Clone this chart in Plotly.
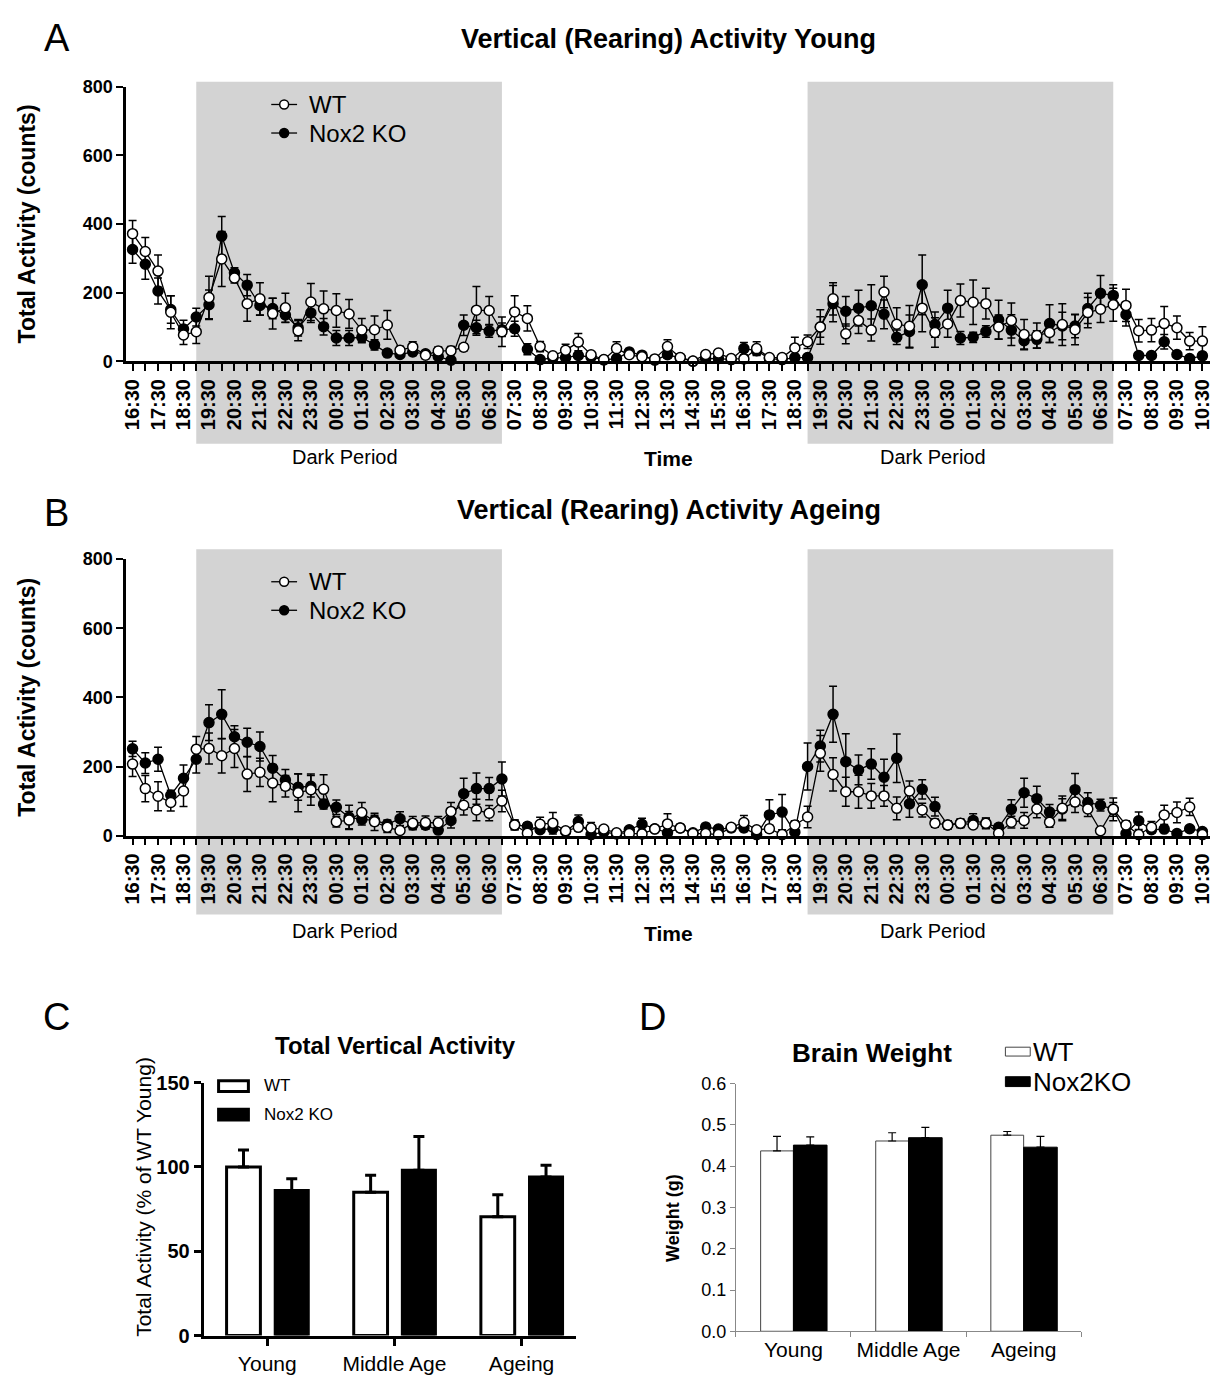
import plotly.graph_objects as go

W, H = 1220, 1379
FONT = "Liberation Sans, Arial, sans-serif"


def px(x):
    return x / W


def py(y):
    return 1 - y / H


# ---------------- time-course data (30-min bins, 16:30 day 1 -> 10:30 day 3) ----------------
hour_labels = [
    "16:30", "17:30", "18:30", "19:30", "20:30", "21:30", "22:30", "23:30",
    "00:30", "01:30", "02:30", "03:30", "04:30", "05:30", "06:30", "07:30",
    "08:30", "09:30", "10:30", "11:30", "12:30", "13:30", "14:30", "15:30",
    "16:30", "17:30", "18:30", "19:30", "20:30", "21:30", "22:30", "23:30",
    "00:30", "01:30", "02:30", "03:30", "04:30", "05:30", "06:30", "07:30",
    "08:30", "09:30", "10:30",
]
n_bins = 2 * (len(hour_labels) - 1) + 1
t_hours = [i * 0.5 for i in range(n_bins)]          # hours since 16:30 on day 1
dark_start = [2.5, 26.5]                             # 19:00
dark_end = [14.5, 38.5]                              # 07:00

young_wt = [372, 320, 263, 143, 77, 86, 186, 298, 243, 168, 182, 139, 156, 89, 173, 153, 148, 138, 91, 92,
            106, 32, 42, 18, 30, 31, 41, 149, 148, 86, 144, 125, 43, 16, 32, 56, 19, 5, 37, 19,
            13, 7, 43, 11, 1, 20, 24, 8, 7, 37, 11, 11, 39, 57, 100, 182, 80, 119, 91, 202,
            108, 102, 155, 84, 109, 177, 172, 168, 100, 119, 78, 75, 84, 107, 92, 142, 152, 165, 163, 89,
            91, 110, 98, 59, 59]
young_wt_err = [38, 41, 47, 48, 28, 34, 62, 80, 15, 51, 47, 45, 42, 29, 54, 52, 49, 42, 34, 40,
                42, 12, 15, 10, 12, 12, 10, 69, 41, 43, 47, 37, 15, 8, 18, 25, 8, 4, 20, 8,
                6, 5, 20, 6, 3, 8, 8, 5, 5, 20, 6, 6, 31, 20, 50, 47, 29, 38, 32, 46,
                48, 61, 69, 43, 39, 48, 65, 45, 35, 51, 44, 37, 29, 61, 44, 44, 39, 48, 47, 33,
                34, 50, 34, 25, 42]
young_ko = [326, 283, 205, 151, 94, 129, 165, 365, 258, 222, 163, 154, 135, 98, 141, 101, 68, 68, 70, 48,
            24, 20, 27, 22, 14, 3, 105, 98, 88, 92, 95, 35, 5, 10, 11, 17, 12, 4, 8, 27,
            18, 3, 19, 10, 0, 8, 8, 5, 37, 31, 8, 5, 11, 11, 100, 168, 146, 155, 162, 137,
            70, 87, 223, 107, 155, 68, 70, 87, 121, 91, 60, 64, 110, 103, 103, 154, 198, 192, 136, 17,
            17, 57, 20, 8, 16]
young_ko_err = [40, 44, 38, 40, 26, 26, 43, 57, 15, 31, 29, 30, 22, 24, 28, 24, 22, 22, 16, 15,
                10, 8, 10, 8, 8, 5, 30, 22, 18, 20, 22, 16, 5, 5, 6, 8, 6, 3, 5, 10,
                6, 3, 10, 6, 2, 5, 5, 4, 18, 12, 5, 4, 6, 6, 30, 53, 43, 52, 61, 42,
                21, 48, 87, 37, 52, 19, 15, 17, 57, 45, 24, 25, 55, 40, 34, 44, 52, 31, 33, 8,
                8, 21, 8, 5, 10]

ageing_wt = [207, 136, 114, 96, 129, 250, 252, 231, 252, 178, 183, 152, 143, 124, 133, 134, 40, 45, 67, 40,
             24, 15, 36, 38, 37, 70, 88, 74, 65, 100, 31, 7, 33, 36, 14, 24, 22, 19, 8, 6,
             5, 19, 34, 22, 6, 6, 3, 24, 38, 17, 20, 3, 31, 54, 238, 177, 127, 127, 115, 115,
             79, 129, 74, 36, 31, 36, 31, 36, 7, 39, 44, 77, 39, 79, 97, 77, 14, 76, 31, 3,
             24, 60, 67, 83, 3]
ageing_wt_err = [36, 38, 42, 25, 45, 37, 45, 50, 55, 50, 41, 54, 31, 55, 45, 42, 15, 25, 29, 25,
                 15, 8, 19, 19, 18, 26, 28, 31, 22, 31, 14, 5, 20, 31, 6, 10, 16, 8, 5, 5,
                 4, 8, 29, 10, 5, 5, 3, 10, 20, 8, 10, 3, 12, 31, 52, 48, 42, 48, 36, 30,
                 33, 29, 20, 12, 12, 12, 10, 15, 5, 17, 23, 25, 15, 36, 30, 22, 8, 33, 12, 3,
                 17, 28, 30, 25, 3]
ageing_ko = [251, 210, 221, 117, 166, 221, 327, 351, 286, 270, 258, 195, 161, 140, 143, 91, 82, 53, 47, 44,
             33, 49, 31, 30, 16, 44, 121, 136, 136, 164, 31, 27, 17, 20, 12, 41, 3, 10, 5, 17,
             33, 20, 8, 22, 8, 25, 19, 22, 22, 3, 60, 68, 10, 200, 259, 351, 214, 190, 207, 169,
             224, 92, 134, 84, 31, 35, 44, 35, 24, 76, 124, 107, 68, 77, 133, 96, 88, 76, 6, 43,
             17, 19, 6, 20, 12]
ageing_ko_err = [22, 30, 35, 14, 38, 40, 52, 71, 32, 41, 42, 37, 30, 38, 31, 14, 21, 35, 16, 15,
                 12, 20, 12, 10, 8, 22, 45, 45, 32, 49, 14, 10, 8, 8, 6, 19, 3, 5, 4, 8,
                 17, 8, 5, 10, 5, 10, 8, 10, 10, 3, 44, 51, 5, 68, 46, 81, 81, 43, 44, 52,
                 70, 39, 28, 27, 12, 12, 19, 15, 10, 28, 42, 36, 22, 30, 47, 28, 17, 20, 5, 25,
                 8, 8, 5, 8, 6]

# ---------------- summary bar data ----------------
age_groups = ["Young", "Middle Age", "Ageing"]
total_wt = [100, 85, 70.5]
total_wt_err = [10, 10, 13]
total_ko = [86, 98, 94]
total_ko_err = [7, 20, 7]

brain_wt = [0.437, 0.461, 0.475]
brain_wt_err = [0.035, 0.02, 0.009]
brain_ko = [0.451, 0.469, 0.446]
brain_ko_err = [0.02, 0.025, 0.026]

fig = go.Figure()


def add_timecourse(xa, ya, wt, wt_err, ko, ko_err):
    fig.add_trace(go.Scatter(
        x=t_hours, y=ko, name="Nox2 KO", mode="lines+markers", xaxis=xa, yaxis=ya, showlegend=False,
        line=dict(color="black", width=1.3), cliponaxis=False,
        marker=dict(size=10, color="black", line=dict(color="black", width=1.5)),
        error_y=dict(type="data", array=ko_err, color="black", thickness=1.5, width=4),
    ))
    fig.add_trace(go.Scatter(
        x=t_hours, y=wt, name="WT", mode="lines+markers", xaxis=xa, yaxis=ya, showlegend=False,
        line=dict(color="black", width=1.3), cliponaxis=False,
        marker=dict(size=10, color="white", line=dict(color="black", width=1.5)),
        error_y=dict(type="data", array=wt_err, color="black", thickness=1.5, width=4),
    ))


add_timecourse("x", "y", young_wt, young_wt_err, young_ko, young_ko_err)
add_timecourse("x2", "y2", ageing_wt, ageing_wt_err, ageing_ko, ageing_ko_err)

# Panel C: total vertical activity
fig.add_trace(go.Bar(
    x=age_groups, y=total_wt, name="WT", xaxis="x3", yaxis="y3", showlegend=False,
    width=0.266, offset=-0.32,
    marker=dict(color="white", line=dict(color="black", width=3)),
    error_y=dict(type="data", symmetric=False, array=total_wt_err, arrayminus=[0] * 3,
                 color="black", thickness=3, width=5.5),
))
fig.add_trace(go.Bar(
    x=age_groups, y=total_ko, name="Nox2 KO", xaxis="x3", yaxis="y3", showlegend=False,
    width=0.26, offset=0.0625,
    marker=dict(color="black", line=dict(color="black", width=3)),
    error_y=dict(type="data", symmetric=False, array=total_ko_err, arrayminus=[0] * 3,
                 color="black", thickness=3, width=5.5),
))

# Panel D: brain weight
fig.add_trace(go.Bar(
    x=age_groups, y=brain_wt, name="WT", xaxis="x4", yaxis="y4", showlegend=False,
    width=0.285, offset=-0.285,
    marker=dict(color="white", line=dict(color="#444", width=1)),
    error_y=dict(type="data", symmetric=False, array=brain_wt_err, arrayminus=[0] * 3,
                 color="black", thickness=1.2, width=4),
))
fig.add_trace(go.Bar(
    x=age_groups, y=brain_ko, name="Nox2KO", xaxis="x4", yaxis="y4", showlegend=False,
    width=0.292, offset=0,
    marker=dict(color="black", line=dict(color="black", width=1)),
    error_y=dict(type="data", symmetric=False, array=brain_ko_err, arrayminus=[0] * 3,
                 color="black", thickness=1.2, width=4),
))

tick_pos = t_hours
tick_txt = [hour_labels[i // 2] if i % 2 == 0 else "" for i in range(n_bins)]


def ts_xaxis(y_anchor):
    return dict(
        domain=[px(122), px(1213)], anchor=y_anchor, range=[-0.25, 42.3],
        tickmode="array", tickvals=tick_pos, ticktext=tick_txt, tickangle=-90,
        ticks="outside", ticklen=7, tickwidth=2, tickcolor="black",
        showline=True, linewidth=2.5, linecolor="black", showgrid=False, zeroline=False,
        tickfont=dict(family=FONT, size=20, color="black", weight="bold"),
    )


def ts_yaxis(x_anchor, top, bottom):
    return dict(
        domain=[py(bottom), py(top)], anchor=x_anchor, range=[0, 800],
        tickmode="array", tickvals=[0, 200, 400, 600, 800],
        ticks="outside", ticklen=7, tickwidth=2, tickcolor="black",
        showline=True, linewidth=2.5, linecolor="black", showgrid=False, zeroline=False,
        tickfont=dict(family=FONT, size=18, color="black", weight="bold"),
    )


fig.update_layout(
    width=W, height=H, margin=dict(l=0, r=0, t=0, b=0),
    paper_bgcolor="white", plot_bgcolor="rgba(0,0,0,0)",
    font=dict(family=FONT, color="black"),
    barmode="overlay", showlegend=False,
    xaxis=ts_xaxis("y"),
    yaxis=ts_yaxis("x", 77, 356),
    xaxis2=ts_xaxis("y2"),
    yaxis2=ts_yaxis("x2", 557, 838),
    xaxis3=dict(
        domain=[px(200), px(575)], anchor="y3", range=[-0.5, 2.43],
        ticks="outside", ticklen=7, tickwidth=3, tickcolor="black",
        showline=True, linewidth=3, linecolor="black", showgrid=False, zeroline=False,
        tickfont=dict(family=FONT, size=21, color="black"),
    ),
    yaxis3=dict(
        domain=[py(1346), py(1089)], anchor="x3", range=[0, 150],
        tickvals=[0, 50, 100, 150], ticks="outside", ticklen=7, tickwidth=3, tickcolor="black",
        showline=True, linewidth=3, linecolor="black", showgrid=False, zeroline=False,
        tickfont=dict(family=FONT, size=20, color="black", weight="bold"),
    ),
    xaxis4=dict(
        domain=[px(735.7), px(1083.3)], anchor="y4", range=[-0.5, 2.5],
        ticks="outside", ticklen=5, tickwidth=1, tickcolor="#888", tickson="boundaries",
        showline=True, linewidth=1, linecolor="#888", showgrid=False, zeroline=False,
        tickfont=dict(family=FONT, size=21, color="black"),
    ),
    yaxis4=dict(
        domain=[py(1341.7), py(1090)], anchor="x4", range=[0, 0.6],
        tickvals=[0, 0.1, 0.2, 0.3, 0.4, 0.5, 0.6], tickformat=".1f",
        ticks="outside", ticklen=5, tickwidth=1, tickcolor="#888",
        showline=True, linewidth=1, linecolor="#888", showgrid=False, zeroline=False,
        tickfont=dict(family=FONT, size=18, color="black"),
    ),
)

# Dark (lights-off) periods
shapes = []
for xr, yr, lo, hi in [("x", "y domain", -0.30, 1.018), ("x2", "y2 domain", -0.285, 1.036)]:
    for s, e in zip(dark_start, dark_end):
        shapes.append(dict(type="rect", xref=xr, yref=yr, x0=s, x1=e, y0=lo, y1=hi,
                           fillcolor="#d3d3d3", line=dict(width=0), layer="below"))


def line_marker_key(cy, fill):
    # legend key: short line with a circle marker in the middle
    r = 4.5
    return [
        dict(type="line", xref="paper", yref="paper", x0=px(268), x1=px(294), y0=py(cy), y1=py(cy),
             line=dict(color="black", width=1.3)),
        dict(type="circle", xref="paper", yref="paper", x0=px(281 - r), x1=px(281 + r),
             y0=py(cy + r), y1=py(cy - r), fillcolor=fill, line=dict(color="black", width=1.5)),
    ]


for wt_y, ko_y in [(95, 124), (580, 609)]:
    shapes += line_marker_key(wt_y, "white")
    shapes += line_marker_key(ko_y, "black")

# Legend keys for the bar panels
shapes += [
    dict(type="rect", xref="paper", yref="paper", x0=px(215), x1=px(245), y0=py(1098), y1=py(1087),
         fillcolor="white", line=dict(color="black", width=3)),
    dict(type="rect", xref="paper", yref="paper", x0=px(215), x1=px(245), y0=py(1127), y1=py(1116),
         fillcolor="black", line=dict(color="black", width=3)),
    dict(type="rect", xref="paper", yref="paper", x0=px(1007), x1=px(1032), y0=py(1062), y1=py(1053),
         fillcolor="white", line=dict(color="#444", width=1)),
    dict(type="rect", xref="paper", yref="paper", x0=px(1007), x1=px(1032), y0=py(1093), y1=py(1083),
         fillcolor="black", line=dict(color="black", width=1)),
]
fig.update_layout(shapes=shapes)


def label(x, y, text, size, bold=False, angle=0, xanchor="center"):
    fig.add_annotation(
        x=px(x), y=py(y), xref="paper", yref="paper", text=text, showarrow=False,
        textangle=angle, xanchor=xanchor, yanchor="middle",
        font=dict(family=FONT, size=size, color="black", weight="bold" if bold else "normal"),
    )


# Panel letters
label(52, 27, "A", 38)
label(52, 510, "B", 38)
label(52, 1022, "C", 38)
label(652, 1022, "D", 38)

# Panel A / B titles, legends and axis labels
label(668, 28, "Vertical (Rearing) Activity Young", 27, bold=True)
label(668, 507, "Vertical (Rearing) Activity Ageing", 27, bold=True)
for wt_y, ko_y in [(95, 124), (580, 609)]:
    label(304, wt_y, "WT", 24, xanchor="left")
    label(304, ko_y, "Nox2 KO", 24, xanchor="left")
label(22, 216, "Total Activity (counts)", 23, bold=True, angle=-90)
label(22, 697, "Total Activity (counts)", 23, bold=True, angle=-90)
label(668, 455, "Time", 21, bold=True)
label(668, 937, "Time", 21, bold=True)
for yy in (453, 935):
    label(342, yy, "Dark Period", 20)
    label(934, yy, "Dark Period", 20)

# Panel C
label(393, 1051, "Total Vertical Activity", 24, bold=True)
label(140, 1205, "Total Activity (% of WT Young)", 21, angle=-90)
label(259, 1092, "WT", 17, xanchor="left")
label(259, 1121, "Nox2 KO", 17, xanchor="left")

# Panel D
label(873, 1059, "Brain Weight", 26, bold=True)
label(673, 1227, "Weight (g)", 18, bold=True, angle=-90)
label(1033, 1058, "WT", 26, xanchor="left")
label(1033, 1088, "Nox2KO", 26, xanchor="left")

fig.write_html("out.html")
